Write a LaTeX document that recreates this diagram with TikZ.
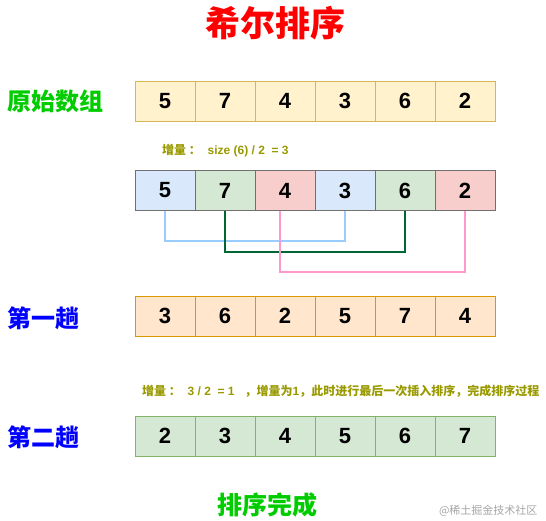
\documentclass[tikz,border=0pt]{standalone}
\usepackage{fontspec}
\setmainfont{Liberation Sans}
\newfontfamily\cjk{Noto Sans CJK SC}
\definecolor{yfill}{HTML}{FFF2CC}\definecolor{ydraw}{HTML}{D6B656}
\definecolor{bfill}{HTML}{DAE8FC}\definecolor{gfill}{HTML}{D5E8D4}
\definecolor{rfill}{HTML}{F8CECC}\definecolor{mdraw}{HTML}{707070}
\definecolor{ofill}{HTML}{FFE6CC}\definecolor{odraw}{HTML}{D79B00}
\definecolor{gdraw}{HTML}{82B366}
\definecolor{lblue}{HTML}{99CCFF}\definecolor{dgreen}{HTML}{006633}
\definecolor{lpink}{HTML}{FF99CC}
\definecolor{olive}{HTML}{999900}
\definecolor{titlered}{HTML}{FF0000}
\definecolor{lgreen}{HTML}{00CC00}
\begin{document}
\begin{tikzpicture}[x=1pt,y=-1pt,
  cell/.style={draw, minimum width=60pt, minimum height=40pt, inner sep=0pt, font=\bfseries\fontsize{22}{22}\selectfont, line width=0.8pt},
  yc/.style={cell, fill=yfill, draw=ydraw},
  bc/.style={cell, fill=bfill, draw=mdraw},
  gc/.style={cell, fill=gfill, draw=mdraw},
  rc/.style={cell, fill=rfill, draw=mdraw},
  oc/.style={cell, fill=ofill, draw=odraw},
  fc/.style={cell, fill=gfill, draw=gdraw},
  lab/.style={font=\cjk\bfseries\fontsize{24}{24}\selectfont},
  inc/.style={font=\bfseries\fontsize{12}{12}\selectfont, text=olive, inner sep=0pt, anchor=west},
  link/.style={line width=1.6pt}
]
\useasboundingbox (0,0) rectangle (546,521);
\node[font=\cjk\bfseries\fontsize{35}{35}\selectfont, text=titlered] (title) at (275,23) {希尔排序};

\node[lab, text=lgreen] (l1) at (55,101) {原始数组};
\foreach \v [count=\i] in {5,7,4,3,6,2}
  \node[yc] (a\i) at (105+60*\i,101) {\v};

\node[inc] (inc1) at (162,151) {{\cjk 增量 ：}\ \ size (6) / 2 \ = 3};

\node[bc] (b1) at (165,190.5) {5};
\node[gc] (b2) at (225,190.5) {7};
\node[rc] (b3) at (285,190.5) {4};
\node[bc] (b4) at (345,190.5) {3};
\node[gc] (b5) at (405,190.5) {6};
\node[rc] (b6) at (465,190.5) {2};

\draw[link, lblue] (b1.south) -- ++(0,30) -| (b4.south);
\draw[link, dgreen] (b2.south) -- ++(0,41) -| (b5.south);
\draw[link, lpink] ([xshift=-5pt]b3.south) -- ++(0,61) -| (b6.south);

\node[lab, text=blue] (l2) at (43,318) {第一趟};
\foreach \v [count=\i] in {3,6,2,5,7,4}
  \node[oc] (c\i) at (105+60*\i,316) {\v};

\node[inc] (inc2) at (142,391) {{\cjk 增量 ：}\ \ 3 / 2 \ = 1 \ \ {\cjk ，增量为}1{\cjk ，此时进行最后一次插入排序，完成排序过程}};

\node[lab, text=blue] (l3) at (43,437) {第二趟};
\foreach \v [count=\i] in {2,3,4,5,6,7}
  \node[fc] (d\i) at (105+60*\i,436) {\v};

\node[font=\cjk\bfseries\fontsize{25}{25}\selectfont, text=lgreen] (done) at (267,505) {排序完成};
\node[font=\cjk\fontsize{11}{11}\selectfont, text=gray!70, anchor=east] (wm) at (541,511) {@稀土掘金技术社区};
\end{tikzpicture}
\end{document}
